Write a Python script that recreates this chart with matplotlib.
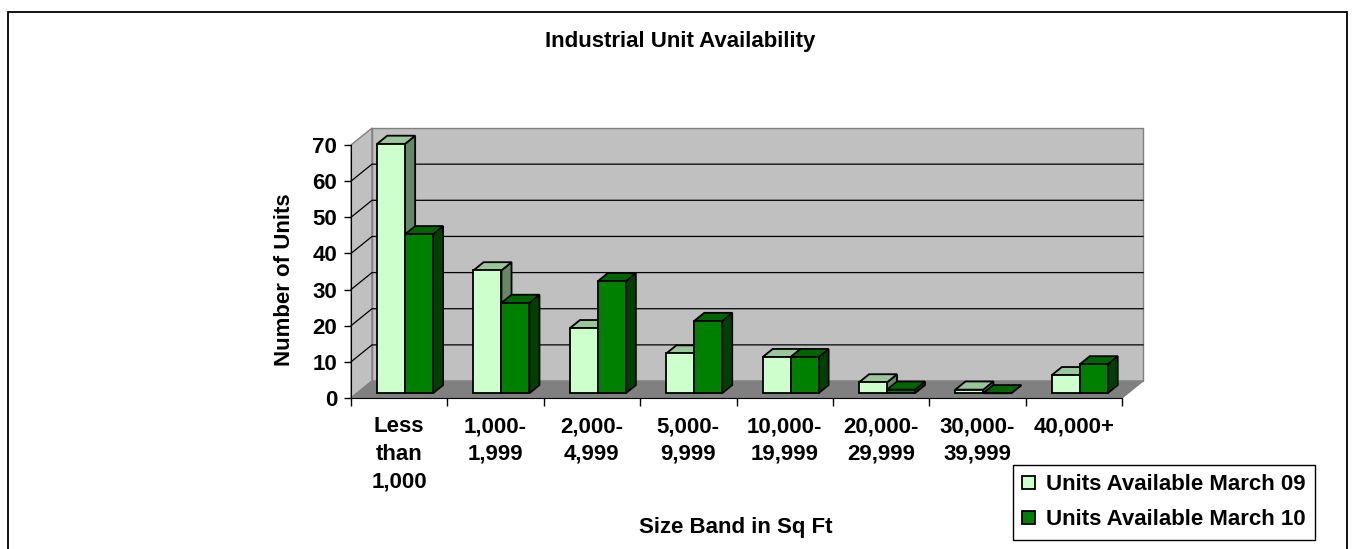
import numpy as np
import matplotlib.pyplot as plt
from matplotlib.patches import Polygon, Rectangle

plt.rcParams['font.family'] = ['Liberation Sans', 'DejaVu Sans']
plt.rcParams['font.weight'] = 'bold'

categories = ['Less\nthan\n1,000', '1,000-\n1,999', '2,000-\n4,999', '5,000-\n9,999',
              '10,000-\n19,999', '20,000-\n29,999', '30,000-\n39,999', '40,000+']
march09 = [69, 34, 18, 11, 10, 3, 1, 5]
march10 = [44, 25, 31, 20, 10, 1, 0, 8]
series_names = ['Units Available March 09', 'Units Available March 10']
yticks = [0, 10, 20, 30, 40, 50, 60, 70]

# front, top, side shades for each series
light = ('#ccffcc', '#99c799', '#668866')
dark = ('#008000', '#006600', '#004000')

FS = 16
W, H = 1354, 549
fig = plt.figure(figsize=(W / 100, H / 100), dpi=100)
ax = fig.add_axes([351 / W, 1 - 398 / H, 771 / W, 253 / H])
ncat = len(categories)
ymax = yticks[-1]
ax.set_xlim(0, ncat)
ax.set_ylim(0, ymax)
ax.patch.set_visible(False)

DX, DY = 0.218, 4.7      # depth of the floor in data units
f0, f1 = 0.28, 0.76      # bar depth span, fraction of the floor depth
bw, boff = 0.29, 0.21    # bar width and offset inside a category


def poly(pts, fc, ec='#808080', lw=1.0, z=1):
    ax.add_patch(Polygon(pts, closed=True, fc=fc, ec=ec, lw=lw, zorder=z, clip_on=False))


# walls and floor
poly([(0, 0), (DX, DY), (DX, ymax + DY), (0, ymax)], '#c0c0c0')
poly([(DX, DY), (ncat + DX, DY), (ncat + DX, ymax + DY), (DX, ymax + DY)], '#c0c0c0')
poly([(0, 0), (ncat, 0), (ncat + DX, DY), (DX, DY)], '#808080')
for v in yticks[1:-1]:
    ax.plot([0, DX, ncat + DX], [v, v + DY, v + DY], color='black', lw=0.9,
            zorder=1.5, clip_on=False)

x = np.arange(ncat)
d = f1 - f0
handles = []
for s, (vals, cols) in enumerate([(march09, light), (march10, dark)]):
    left = x + boff + s * bw + f0 * DX
    b = ax.bar(left, vals, width=bw, bottom=f0 * DY, align='edge', color=cols[0],
               edgecolor='black', lw=1.3, zorder=3 + s, label=series_names[s], clip_on=False)
    handles.append(b)
    for xl, v in zip(left, vals):
        y0, y1 = f0 * DY, v + f0 * DY
        top = [(xl, y1), (xl + bw, y1), (xl + bw + d * DX, y1 + d * DY), (xl + d * DX, y1 + d * DY)]
        side = [(xl + bw, y0), (xl + bw + d * DX, y0 + d * DY),
                (xl + bw + d * DX, y1 + d * DY), (xl + bw, y1)]
        poly(side, cols[2], ec='black', lw=1.3, z=2.9 + s)
        poly(top, cols[1], ec='black', lw=1.3, z=2.9 + s)

# axes
for side in ['top', 'right']:
    ax.spines[side].set_visible(False)
ax.spines['left'].set_bounds(0, ymax)
ax.spines['left'].set_zorder(5)
ax.spines['bottom'].set_zorder(5)
ax.set_yticks(yticks)
ax.tick_params(axis='y', direction='out', length=5, width=1, pad=5, labelsize=FS)
ax.set_xticks(np.arange(ncat + 1), [''] * (ncat + 1))
ax.set_xticks(x + 0.5, categories, minor=True)
ax.tick_params(axis='x', which='major', direction='out', length=6, width=1)
ax.tick_params(axis='x', which='minor', length=0, pad=13, labelsize=FS)
for lab in ax.get_xticklabels(minor=True):
    lab.set_linespacing(1.43)

fig.text(680 / W, 1 - 42 / H, 'Industrial Unit Availability', ha='center', va='center', fontsize=FS)
fig.text(736 / W, 1 - 527 / H, 'Size Band in Sq Ft', ha='center', va='center', fontsize=FS)
fig.text(285 / W, 1 - 280 / H, 'Number of Units', ha='center', va='center', rotation=90, fontsize=FS)

leg = fig.legend(handles=handles, loc='upper left', bbox_to_anchor=(1013 / W, 1 - 465 / H),
                 borderaxespad=0, fancybox=False, edgecolor='black', framealpha=1,
                 fontsize=FS, handlelength=0.55, handleheight=0.55, handletextpad=0.5,
                 labelspacing=0.63, borderpad=0.42)
leg.get_frame().set_linewidth(1.0)

# chart border
fig.patches.append(Rectangle((8 / W, -0.1), 1339 / W, 1.1 - 11.5 / H, transform=fig.transFigure,
                             fill=False, ec='black', lw=1.3))

fig.savefig('out.png', dpi=100)
